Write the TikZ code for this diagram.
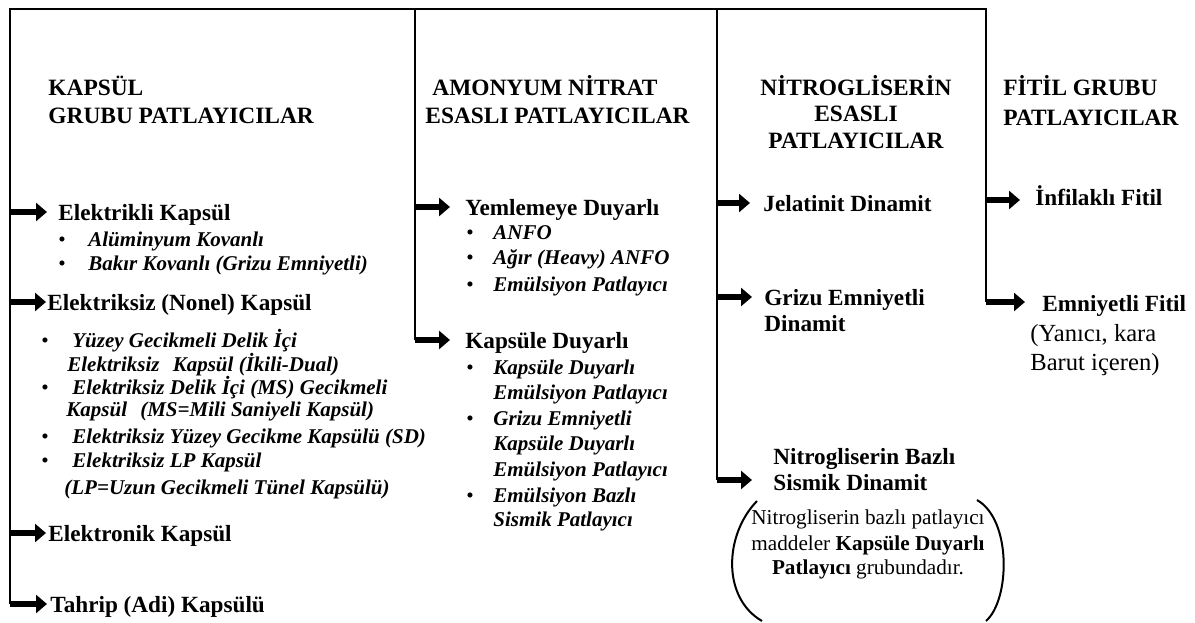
\documentclass[tikz,border=0pt]{standalone}
\usepackage{fontspec}
\setmainfont{Liberation Serif}
\usetikzlibrary{arrows.meta}
\tikzset{%
    trunk/.style={line width=1.2pt},
    fatarrow/.style={line width=3.4pt, -{Triangle[length=5.5pt, width=9pt]}},
    heading/.style={anchor=base west, inner sep=0pt,
        font=\bfseries\fontsize{11.7pt}{14pt}\selectfont},
    entry/.style={anchor=base west, inner sep=0pt,
        font=\bfseries\fontsize{11.6pt}{14pt}\selectfont},
    subentry/.style={anchor=base west, inner sep=0pt,
        font=\bfseries\itshape\fontsize{10.5pt}{13pt}\selectfont},
    bullet/.style={anchor=base, inner sep=0pt,
        font=\fontsize{10.6pt}{13pt}\selectfont},
    remark/.style={anchor=base, inner sep=0pt,
        font=\fontsize{10.6pt}{13pt}\selectfont},
    aside/.style={anchor=base west, inner sep=0pt,
        font=\fontsize{12.3pt}{14pt}\selectfont}
}

\begin{document}
\begin{tikzpicture}[x=0.5pt, y=-0.5pt]
    \useasboundingbox (0,0) rectangle (1195,622);

    % Trunk lines
    \coordinate (kap-top) at (10,9);
    \coordinate (an-top) at (415,9);
    \coordinate (ng-top) at (717,9);
    \coordinate (fi-top) at (986,9);
    \coordinate (kb1) at (10,212);
    \coordinate (kb2) at (10,302);
    \coordinate (kb3) at (10,533);
    \coordinate (kb4) at (10,604);
    \coordinate (ab1) at (415,207);
    \coordinate (ab2) at (415,340);
    \coordinate (nb1) at (717,203);
    \coordinate (nb2) at (717,297);
    \coordinate (nb3) at (717,480);
    \coordinate (fb1) at (986,200);
    \coordinate (fb2) at (986,302);
    \draw[trunk] (kb4) -- (kap-top) -- (fi-top) -- (fb2);
    \draw[trunk] (an-top) -- (ab2);
    \draw[trunk] (ng-top) -- (nb3);

    % Kapsul grubu
    \node[heading] (kap-t1) at (48,95) {KAPSÜL};
    \node[heading] (kap-t2) at (48,123) {GRUBU PATLAYICILAR};
    \node[entry] (elk) at (58,220) {Elektrikli Kapsül};
    \node[entry] (nonel) at (47,310) {Elektriksiz (Nonel) Kapsül};
    \node[entry] (elt) at (48,541) {Elektronik Kapsül};
    \node[entry] (adi) at (50,612) {Tahrip (Adi) Kapsülü};
    \foreach \n/\x/\y/\t in {%
            alu/88/246/Alüminyum Kovanlı,
            bak/88/270/Bakır Kovanlı (Grizu Emniyetli),
            yuz1/72/347/Yüzey Gecikmeli Delik İçi,
            yuz2/67/371/Elektriksiz\hspace{4pt} Kapsül (İkili-Dual),
            dms1/72/394/Elektriksiz Delik İçi (MS) Gecikmeli,
            dms2/66/416/Kapsül\hspace{4pt} (MS=Mili Saniyeli Kapsül),
            sd/72/443/Elektriksiz Yüzey Gecikme Kapsülü (SD),
            lp1/72/467/Elektriksiz LP Kapsül,
            lp2/64/494/(LP=Uzun Gecikmeli Tünel Kapsülü)}{%
        \node[subentry] (\n) at (\x,\y) {\t};
    }

    % Amonyum nitrat
    \node[heading] (an-t1) at (432,95) {AMONYUM NİTRAT};
    \node[heading] (an-t2) at (425,123) {ESASLI PATLAYICILAR};
    \node[entry] (yem) at (465,215) {Yemlemeye Duyarlı};
    \node[entry] (kdu) at (465,348) {Kapsüle Duyarlı};
    \foreach \n/\y/\t in {%
            anfo/239/ANFO,
            agir/264/Ağır (Heavy) ANFO,
            emp/291/Emülsiyon Patlayıcı,
            kde1/374/Kapsüle Duyarlı,
            kde2/399/Emülsiyon Patlayıcı,
            gke1/425/Grizu Emniyetli,
            gke2/450/Kapsüle Duyarlı,
            gke3/476/Emülsiyon Patlayıcı,
            ebs1/502/Emülsiyon Bazlı,
            ebs2/526/Sismik Patlayıcı}{%
        \node[subentry] (\n) at (493,\y) {\t};
    }

    % Bullets
    \foreach \x/\y in {62/246, 62/270, 45/347, 45/394, 45/443, 45/467,
            470/239, 470/264, 470/291, 470/374, 470/425, 470/502}{%
        \node[bullet] (dot-\x-\y) at (\x,\y) {•};
    }

    % Nitrogliserin
    \node[heading, anchor=base] (ng-t1) at (856,95) {NİTROGLİSERİN};
    \node[heading, anchor=base] (ng-t2) at (856,121) {ESASLI};
    \node[heading, anchor=base] (ng-t3) at (856,148) {PATLAYICILAR};
    \node[entry] (jel) at (763,211) {Jelatinit Dinamit};
    \node[entry] (gri1) at (764,305) {Grizu Emniyetli};
    \node[entry] (gri2) at (764,331) {Dinamit};
    \node[entry] (sis1) at (773,464) {Nitrogliserin Bazlı};
    \node[entry] (sis2) at (773,490) {Sismik Dinamit};
    \node[remark] (rem1) at (868,524) {Nitrogliserin bazlı patlayıcı};
    \node[remark] (rem2) at (868,550) {maddeler \textbf{Kapsüle Duyarlı}};
    \node[remark] (rem3) at (868,574) {\textbf{Patlayıcı} grubundadır.};
    \draw[line width=1pt] (757,501) .. controls (724,535) and (722,598) .. (762,621);
    \draw[line width=1pt] (977,500) .. controls (1012,520) and (1010,600) .. (986,621);

    % Fitil grubu
    \node[heading] (fi-t1) at (1003,95) {FİTİL GRUBU};
    \node[heading] (fi-t2) at (1003,125) {PATLAYICILAR};
    \node[entry] (inf) at (1035,205) {İnfilaklı Fitil};
    \node[entry] (emf) at (1042,311) {Emniyetli Fitil};
    \node[aside] (emf2) at (1030,341) {(Yanıcı, kara};
    \node[aside] (emf3) at (1030,370) {Barut içeren)};

    % Arrows
    \draw[fatarrow, shorten >=5.5pt] (kb1) -- (kb1 -| elk.west);
    \draw[fatarrow, shorten >=0.5pt] (kb2) -- (kb2 -| nonel.west);
    \draw[fatarrow, shorten >=1pt] (kb3) -- (kb3 -| elt.west);
    \draw[fatarrow, shorten >=1.5pt] (kb4) -- (kb4 -| adi.west);
    \draw[fatarrow, shorten >=7.5pt] (ab1) -- (ab1 -| yem.west);
    \draw[fatarrow, shorten >=7.5pt] (ab2) -- (ab2 -| kdu.west);
    \draw[fatarrow, shorten >=6.5pt] (nb1) -- (nb1 -| jel.west);
    \draw[fatarrow, shorten >=6pt] (nb2) -- (nb2 -| gri1.west);
    \draw[fatarrow, shorten >=10.5pt] (nb3) -- (nb3 -| sis2.west);
    \draw[fatarrow, shorten >=7.5pt] (fb1) -- (fb1 -| inf.west);
    \draw[fatarrow, shorten >=8.5pt] (fb2) -- (fb2 -| emf.west);

\end{tikzpicture}
\end{document}
